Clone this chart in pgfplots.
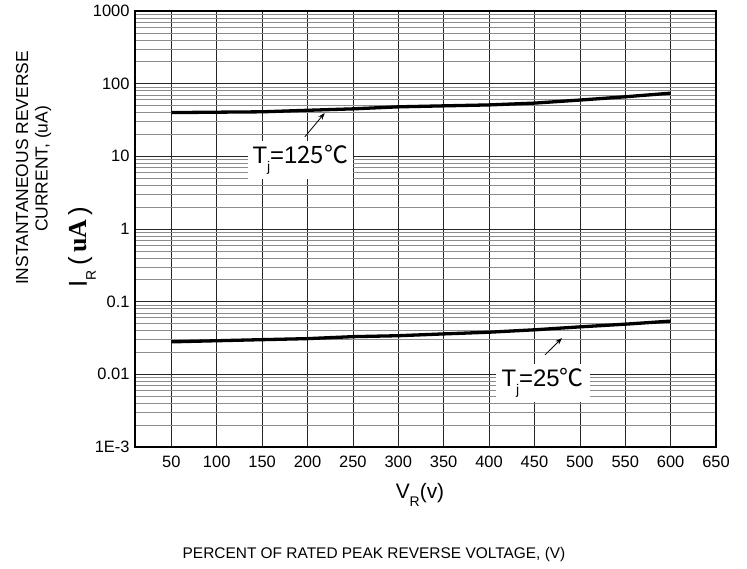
\documentclass[border=0pt]{standalone}
\usepackage{fontspec}
\setmainfont{Liberation Sans}
\newfontfamily\serifb{Liberation Serif}
\newfontfamily\cjk{Noto Sans CJK SC}
\usepackage{pgfplots}
\pgfplotsset{compat=1.18}
\usetikzlibrary{arrows.meta}

% measured curves
\pgfplotstableread{
x    hot   cold
50   40    0.028
100  40.5  0.029
150  41    0.030
200  43    0.031
250  45    0.033
300  48    0.034
350  49.5  0.036
400  51    0.038
450  54    0.041
500  59.5  0.045
550  66    0.049
600  74    0.054
}\curves

\newcommand{\sub}[1]{\raisebox{-0.35em}{\fontsize{14}{14}\selectfont #1}}

\begin{document}
\begin{tikzpicture}
\useasboundingbox (-135bp,-122bp) rectangle (612bp,447bp);
\begin{axis}[
  at={(0,0)}, anchor=south west,
  scale only axis, width=581bp, height=436bp,
  xmin=10, xmax=650,
  ymode=log, ymin=1e-3, ymax=1000,
  xtick={50,100,...,650},
  ytick={1e-3,1e-2,1e-1,1,10,100,1000},
  yticklabels={1E-3,0.01,0.1,1,10,100,1000},
  /pgf/number format/assume math mode=true,
  ticklabel style={font=\fontsize{16.5}{19}\selectfont},
  xticklabel style={yshift=-5bp},
  yticklabel style={xshift=-2bp},
  major tick length=0pt, minor tick length=0pt,
  xmajorgrids, ymajorgrids, yminorgrids,
  major grid style={black!85, line width=0.6bp},
  minor grid style={black!45, line width=0.7bp},
  axis line style={line width=1.2bp},
]
\addplot[black, line width=3.3bp] table[x=x, y=hot] {\curves};
\addplot[black, line width=3.3bp] table[x=x, y=cold] {\curves};

\node[fill=white, inner xsep=5bp, inner ysep=4bp, font=\fontsize{24}{28}\selectfont]
  at (axis cs:192,8.9) {T\sub{j}=1{\cjk 25℃}};
\draw[-{Stealth[length=7bp,width=5bp]}, line width=0.8bp]
  (axis cs:197,18.5) -- (axis cs:219,39.5);

\node[fill=white, inner xsep=6bp, inner ysep=4bp, font=\fontsize{24}{28}\selectfont]
  at (axis cs:459,0.0076) {T\sub{j}=25{\cjk ℃}};
\draw[-{Stealth[length=7bp,width=5bp]}, line width=0.8bp]
  (axis cs:461.6,0.0185) -- (axis cs:480.4,0.0316);
\end{axis}

\node[rotate=90, font=\fontsize{17.5}{20}\selectfont] at (-113bp,279bp) {INSTANTANEOUS REVERSE};
\node[rotate=90, font=\fontsize{17.5}{20}\selectfont] at (-92bp,278bp) {CURRENT, (uA)};
\node[rotate=90, font=\fontsize{26}{30}\selectfont] at (-53bp,200bp)
  {I\sub{R}\,(\,{\serifb\bfseries uA}\,)};
\node[font=\fontsize{21}{24}\selectfont] at (285bp,-48bp) {V\sub{R}(v)};
\node[font=\fontsize{15.5}{18}\selectfont] at (239bp,-108bp) {PERCENT OF RATED PEAK REVERSE VOLTAGE, (V)};
\end{tikzpicture}
\end{document}
